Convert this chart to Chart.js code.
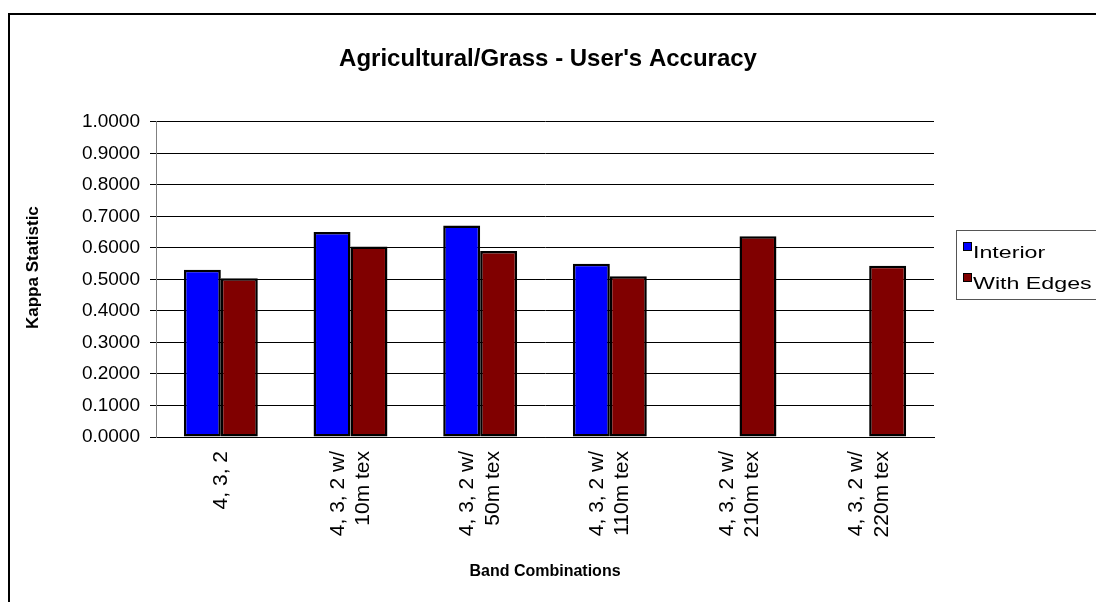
<!DOCTYPE html>
<html>
<head>
<meta charset="utf-8">
<script src="https://cdn.jsdelivr.net/npm/chart.js@4.4.1/dist/chart.umd.min.js"></script>
<style>
  body { margin: 0; background: #fff; font-family: "Liberation Sans", Arial, sans-serif; }
  #wrap { position: relative; width: 1096px; height: 602px; overflow: hidden; }
  #frame { position: absolute; left: 8px; top: 13px; width: 1200px; height: 700px; border-left: 2px solid #000; border-top: 2px solid #000; }
  #chart { position: absolute; left: 0; top: 0; }
  #legend { position: absolute; left: 956px; top: 230px; width: 170px; height: 68px; border: 1px solid #555; font-size: 16px; color: #000; }
  .item { position: absolute; left: 6px; height: 20px; line-height: 20px; white-space: nowrap; }
  .sw { display: inline-block; width: 7px; height: 7px; border: 1px solid #000; margin-right: 1px; vertical-align: 7px; }
  .txt { display: inline-block; transform: scaleX(1.45); transform-origin: left center; }
</style>
</head>
<body>
<div id="wrap">
  <div id="frame"></div>
  <canvas id="chart" width="1096" height="602"></canvas>
  <div id="legend"></div>
</div>
<script>
// chart data
const categories = [
    ['4, 3, 2'],
    ['4, 3, 2 w/', '10m tex'],
    ['4, 3, 2 w/', '50m tex'],
    ['4, 3, 2 w/', '110m tex'],
    ['4, 3, 2 w/', '210m tex'],
    ['4, 3, 2 w/', '220m tex']
];
const interior = [0.531, 0.650, 0.671, 0.550, null, null];
const withEdges = [0.504, 0.604, 0.590, 0.510, 0.637, 0.543];
const seriesNames = ['Interior', 'With Edges'];
const seriesColors = ['#0000ff', '#800000'];

Chart.defaults.font.family = '"Liberation Sans", Arial, sans-serif';
Chart.defaults.color = '#000';

function barSet(i, values) {
    return {
        label: seriesNames[i],
        data: values,
        backgroundColor: seriesColors[i],
        borderColor: '#000',
        borderWidth: 2.5,
        borderSkipped: false,
        categoryPercentage: 0.57,
        barPercentage: 1.0
    };
}

// rotated multi-line tick labels: centre the block of lines on the tick
const centerRotatedLabels = {
    id: 'centerRotatedLabels',
    beforeDraw(chart) {
        const scale = chart.scales.x;
        const items = scale.getLabelItems();
        items.forEach(it => {
            if (Array.isArray(it.label) && it.label.length > 1 && !it._centered) {
                it.options.translation[0] -= (it.label.length - 1) * it.font.lineHeight / 2;
                it._centered = true;
            }
        });
    }
};

new Chart(document.getElementById('chart'), {
    type: 'bar',
    data: {
        labels: categories,
        datasets: [barSet(0, interior), barSet(1, withEdges)]
    },
    plugins: [centerRotatedLabels],
    options: {
        responsive: false,
        animation: false,
        layout: { padding: 0 },
        plugins: {
            legend: { display: false },
            tooltip: { enabled: false },
            title: {
                display: true,
                text: "Agricultural/Grass - User's Accuracy",
                font: { size: 24, weight: 'bold' },
                color: '#000',
                padding: { top: 45, bottom: 48 }
            }
        },
        scales: {
            x: {
                grid: { display: false, drawTicks: false },
                border: { display: true, color: '#000' },
                ticks: { minRotation: 90, maxRotation: 90, padding: 14, font: { size: 21 }, color: '#000' },
                title: {
                    display: true,
                    text: 'Band Combinations',
                    font: { size: 16, weight: 'bold' },
                    color: '#000',
                    padding: { top: 0, bottom: 21 }
                },
                afterFit: s => { s.height = 165; }
            },
            y: {
                min: 0,
                max: 1,
                ticks: {
                    stepSize: 0.1,
                    padding: 10,
                    font: { size: 19 },
                    color: '#000',
                    callback: v => Number(v).toFixed(4)
                },
                grid: { color: '#000', lineWidth: 1, tickLength: 6 },
                border: { color: '#808080' },
                title: {
                    display: true,
                    text: '     Kappa Statistic',
                    font: { size: 17, weight: 'bold' },
                    color: '#000',
                    padding: { top: 23, bottom: 0 }
                },
                afterFit: s => { s.width = 156; }
            },
            // empty right-hand space where the legend sits
            side: {
                type: 'linear',
                position: 'right',
                grid: { display: false },
                border: { display: false },
                ticks: { display: false },
                afterFit: s => { s.width = 162; }
            }
        }
    }
});

// legend box like the original
const legend = document.getElementById('legend');
seriesNames.forEach((name, i) => {
    const item = document.createElement('div');
    item.className = 'item';
    item.style.top = (11 + i * 31) + 'px';
    item.innerHTML = '<span class="sw" style="background:' + seriesColors[i] + '"></span><span class="txt">' + name + '</span>';
    legend.appendChild(item);
});
</script>
</body>
</html>
